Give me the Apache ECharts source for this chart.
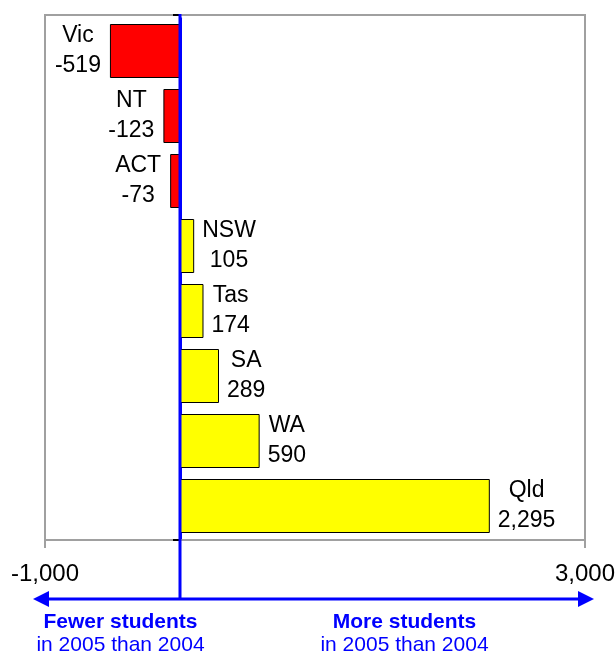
<!DOCTYPE html>
<html>
<head>
<meta charset="utf-8">
<script src="https://cdn.jsdelivr.net/npm/echarts@6/dist/echarts.min.js"></script>
<style>
html,body{margin:0;padding:0;background:#fff;}
#c{width:616px;height:655px;}
</style>
</head>
<body>
<div id="c"></div>
<script>
const categories = ['Vic', 'NT', 'ACT', 'NSW', 'Tas', 'SA', 'WA', 'Qld'];
const changes = [-519, -123, -73, 105, 174, 289, 590, 2295];
const xTicks = [-1000, 3000];
const leftCaption = ['Fewer students', 'in 2005 than 2004'];
const rightCaption = ['More students', 'in 2005 than 2004'];

const FONT = 'Arial, "Liberation Sans", sans-serif';
const BLUE = '#0000FF';
const GRAY = '#A0A0A0';
const fmt = v => v.toLocaleString('en-US');

const chart = echarts.init(document.getElementById('c'), null, {renderer: 'canvas'});

const seriesData = changes.map((v, i) => {
  const neg = v < 0;
  return {
    value: v,
    name: categories[i],
    itemStyle: {color: neg ? '#FF0000' : '#FFFF00', borderColor: '#000', borderWidth: 1},
    label: {
      show: true,
      position: neg ? 'left' : 'right',
      distance: neg ? 9 : 8,
      formatter: '{n|' + categories[i] + '}\n{v|' + fmt(v) + '}',
      rich: {
        n: {fontFamily: FONT, fontSize: 23, color: '#000', align: 'center', lineHeight: 30},
        v: {fontFamily: FONT, fontSize: 23, color: '#000', align: 'center', lineHeight: 30}
      }
    }
  };
});

const option = {
  animation: false,
  backgroundColor: '#fff',
  grid: {left: 45, right: 31, top: 18.5, bottom: 116.5, show: false, containLabel: false, outerBoundsMode: 'none'},
  xAxis: {
    type: 'value', min: -1000, max: 3000, offset: 1.5,
    axisLine: {show: true, onZero: false, lineStyle: {color: GRAY, width: 2}},
    axisTick: {show: true, customValues: xTicks, length: 8, lineStyle: {color: GRAY, width: 2}},
    axisLabel: {show: true, customValues: xTicks, formatter: v => fmt(v), fontFamily: FONT, fontSize: 24, color: '#000', margin: 22, hideOverlap: false},
    splitLine: {show: false}
  },
  yAxis: {
    type: 'category', data: categories, inverse: true,
    axisLine: {show: true, onZero: true, lineStyle: {color: BLUE, width: 3}},
    axisTick: {show: false},
    axisLabel: {show: false}
  },
  series: [{
    type: 'bar',
    data: seriesData,
    barWidth: 54
  }]
};
chart.setOption(option);

const x0 = chart.convertToPixel({xAxisIndex: 0}, 0);
const xL = chart.convertToPixel({xAxisIndex: 0}, -1000);
const xR = chart.convertToPixel({xAxisIndex: 0}, 3000);
const yTop = 15, yBot = 540, yArrow = 599;
const lx = (xL + x0) / 2 + 8, rx = (x0 + xR) / 2 + 22;

chart.setOption({
  graphic: [
    {type: 'rect', shape: {x: xL, y: yTop, width: xR - xL, height: yBot - yTop}, style: {fill: null, stroke: GRAY, lineWidth: 2}, z: 1},
    {type: 'line', shape: {x1: x0 - 7, y1: yTop, x2: x0, y2: yTop}, style: {stroke: '#000', lineWidth: 2}, z: 99},
    {type: 'line', shape: {x1: x0 - 7, y1: yBot, x2: x0, y2: yBot}, style: {stroke: '#000', lineWidth: 2}, z: 99},
    {type: 'line', shape: {x1: x0, y1: yTop - 1, x2: x0, y2: yArrow}, style: {stroke: BLUE, lineWidth: 3}, z: 100},
    {type: 'line', shape: {x1: 45, y1: yArrow, x2: 580, y2: yArrow}, style: {stroke: BLUE, lineWidth: 3}, z: 100},
    {type: 'polygon', shape: {points: [[33, yArrow], [49, yArrow - 8], [49, yArrow + 8]]}, style: {fill: BLUE}, z: 100},
    {type: 'polygon', shape: {points: [[594, yArrow], [578, yArrow - 8], [578, yArrow + 8]]}, style: {fill: BLUE}, z: 100},
    {type: 'text', x: lx, y: 622, style: {text: leftCaption[0], font: 'bold 21px ' + FONT, fill: BLUE, align: 'center', verticalAlign: 'middle'}},
    {type: 'text', x: lx, y: 645, style: {text: leftCaption[1], font: '21px ' + FONT, fill: BLUE, align: 'center', verticalAlign: 'middle'}},
    {type: 'text', x: rx, y: 622, style: {text: rightCaption[0], font: 'bold 21px ' + FONT, fill: BLUE, align: 'center', verticalAlign: 'middle'}},
    {type: 'text', x: rx, y: 645, style: {text: rightCaption[1], font: '21px ' + FONT, fill: BLUE, align: 'center', verticalAlign: 'middle'}}
  ]
});
</script>
</body>
</html>
